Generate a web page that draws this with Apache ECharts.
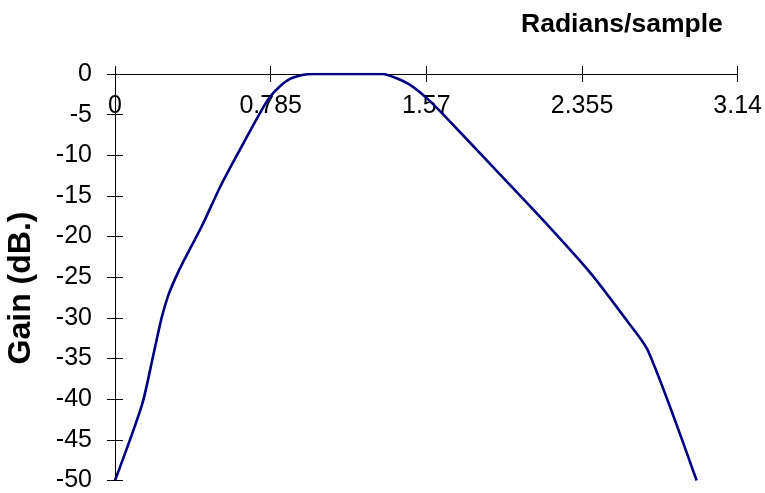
<!DOCTYPE html>
<html>
<head>
<meta charset="utf-8">
<script src="https://cdn.jsdelivr.net/npm/echarts@6/dist/echarts.min.js"></script>
<style>
  html, body { margin: 0; padding: 0; background: #fff; }
  #chart { width: 765px; height: 493px; }
</style>
</head>
<body>
<div id="chart"></div>
<script>
// Frequency response samples: angular frequency (rad/sample) and gain (dB)
const freqRad = [0, 0.136, 0.193, 0.235, 0.269, 0.303, 0.34, 0.44, 0.53, 0.63, 0.731, 0.782, 0.832, 0.883, 0.95, 1.0, 1.351, 1.42, 1.488, 1.572, 1.656, 1.92, 2.19, 2.395, 2.58, 2.689, 2.933];
const gainDb = [-50, -40.7, -34.6, -30.0, -27.2, -25.2, -23.3, -18.6, -13.9, -9.3, -4.8, -2.8, -1.5, -0.6, -0.1, 0, 0, -0.53, -1.34, -2.97, -5.0, -11.8, -18.8, -24.4, -30.3, -34.1, -50];
const xTickValues = [0, 0.785, 1.57, 2.355, 3.14];
const xTickLabels = ['0', '0.785', '1.57', '2.355', '3.14'];

const FONT = 'Liberation Sans, Arial, sans-serif';
const black = '#000';

function xLabel(v) {
  for (let i = 0; i < xTickValues.length; i++) {
    if (Math.abs(v - xTickValues[i]) < 1e-6) return xTickLabels[i];
  }
  return '';
}

const chart = echarts.init(document.getElementById('chart'), null, { renderer: 'canvas' });

const xBase = {
  type: 'value',
  position: 'top',
  min: 0,
  max: 3.14,
  interval: 0.785,
  splitLine: { show: false }
};
const yBase = {
  type: 'value',
  min: -50,
  max: 0,
  interval: 5,
  splitLine: { show: false }
};

chart.setOption({
  animation: false,
  backgroundColor: '#fff',
  title: {
    text: 'Radians/sample',
    left: 516,
    top: 6,
    textStyle: { fontFamily: FONT, fontSize: 26.5, fontWeight: 'bold', color: black }
  },
  graphic: [{
    type: 'text',
    x: 21,
    y: 288,
    rotation: Math.PI / 2,
    style: {
      text: 'Gain (dB.)',
      fontFamily: FONT,
      fontSize: 32,
      fontWeight: 'bold',
      fill: black,
      align: 'center',
      verticalAlign: 'middle'
    }
  }],
  grid: { left: 115, right: 27, top: 74, bottom: 10, containLabel: false },
  xAxis: [
    Object.assign({}, xBase, {
      axisLine: { show: true, lineStyle: { color: black, width: 1 } },
      axisTick: { show: true, inside: true, length: 8, lineStyle: { color: black } },
      axisLabel: {
        show: true, inside: true, margin: 20,
        fontFamily: FONT, fontSize: 25, color: black,
        formatter: xLabel
      }
    }),
    Object.assign({}, xBase, {
      axisLine: { show: false },
      axisTick: { show: true, inside: false, length: 8, lineStyle: { color: black } },
      axisLabel: { show: false }
    })
  ],
  yAxis: [
    Object.assign({}, yBase, {
      axisLine: { show: true, lineStyle: { color: black, width: 1 } },
      axisTick: { show: true, inside: false, length: 8, lineStyle: { color: black } },
      axisLabel: { show: true, margin: 23, fontFamily: FONT, fontSize: 25, color: black }
    }),
    Object.assign({}, yBase, {
      position: 'left',
      axisLine: { show: false },
      axisTick: { show: true, inside: true, length: 8, lineStyle: { color: black } },
      axisLabel: { show: false }
    })
  ],
  series: [{
    type: 'line',
    xAxisIndex: 0,
    yAxisIndex: 0,
    data: freqRad.map((f, i) => [f, gainDb[i]]),
    smooth: 0.25,
    showSymbol: false,
    lineStyle: { color: '#000080', width: 2.6 },
    z: 5
  }]
});
</script>
</body>
</html>
